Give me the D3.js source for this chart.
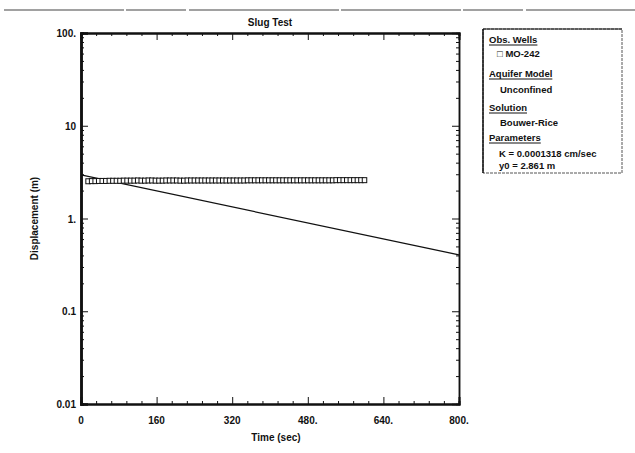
<!DOCTYPE html>
<html><head><meta charset="utf-8">
<script src="https://cdn.jsdelivr.net/npm/d3@7"></script>
<style>
body{margin:0;background:#fff;}
svg{display:block;font-family:"Liberation Sans",Arial,sans-serif;}
</style></head><body>
<svg id="c" width="635" height="453"></svg>
<script>
// ---- data ----
const obsTimes = [15,22.5,30,37.5,45,52.5,60,67.5,75,82.5,90,97.5,105,112.5,120,127.5,135,142.5,150,157.5,165,172.5,180,187.5,195,202.5,210,217.5,225,232.5,240,247.5,255,262.5,270,277.5,285,292.5,300,307.5,315,322.5,330,337.5,345,352.5,360,367.5,375,382.5,390,397.5,405,412.5,420,427.5,435,442.5,450,457.5,465,472.5,480,487.5,495,502.5,510,517.5,525,532.5,540,547.5,555,562.5,570,577.5,585,592.5,600];
const obsDisp = [2.52,2.53,2.53,2.54,2.54,2.54,2.55,2.55,2.55,2.55,2.56,2.56,2.56,2.56,2.57,2.56,2.56,2.57,2.57,2.56,2.56,2.56,2.57,2.57,2.57,2.57,2.56,2.56,2.57,2.57,2.57,2.57,2.57,2.57,2.57,2.57,2.57,2.57,2.57,2.57,2.57,2.57,2.57,2.57,2.57,2.58,2.58,2.58,2.58,2.58,2.58,2.58,2.58,2.58,2.58,2.58,2.58,2.58,2.58,2.58,2.58,2.58,2.58,2.58,2.58,2.58,2.58,2.58,2.58,2.58,2.59,2.59,2.59,2.59,2.59,2.59,2.59,2.59,2.59];
const fitTimes = [0, 800];
const fitDisp = [2.95, 0.405];
const xTickValues = [0,160,320,480,640,800];
const xTickLabels = ["0","160","320","480.","640.","800."];
const yTickValues = [0.01,0.1,1,10,100];
const yTickLabels = ["0.01","0.1","1.","10","100."];
const legendLines = [
  {t:"Obs. Wells", u:true},
  {t:"\u25A1 MO-242", u:false},
  {t:"Aquifer Model", u:true},
  {t:"Unconfined", u:false},
  {t:"Solution", u:true},
  {t:"Bouwer-Rice", u:false},
  {t:"Parameters", u:true},
  {t:"K  = 0.0001318 cm/sec", u:false},
  {t:"y0 = 2.861 m", u:false}
];

// ---- layout ----
const svg = d3.select("#c");
const L=81, R=459, T=33, B=404;
const x = d3.scaleLinear().domain([0,800]).range([L,R]);
const y = d3.scaleLog().domain([0.01,100]).range([B,T]);
const ink = "#111";
const fw = "bold";

// scan line at top
svg.append("line").attr("x1",4).attr("x2",635).attr("y1",10).attr("y2",10)
  .attr("stroke","#444").attr("stroke-width",1.2).attr("stroke-dasharray","120,2,60,3,150,2");

// minor ticks
const xMinor = d3.range(0,801,32).filter(v=>v%160!==0);
const yMinor = [];
[0.01,0.1,1,10].forEach(d=>{for(let k=2;k<=9;k++) yMinor.push(d*k);});

// axes (ticks inward)
const gB = svg.append("g").attr("transform",`translate(0,${B})`);
gB.call(d3.axisBottom(x).tickValues(xTickValues).tickSize(-7).tickFormat(""));
gB.append("g").call(d3.axisBottom(x).tickValues(xMinor).tickSize(-3).tickFormat(""));
const gT = svg.append("g").attr("transform",`translate(0,${T})`);
gT.call(d3.axisTop(x).tickValues(xTickValues).tickSize(-7).tickFormat(""));
gT.append("g").call(d3.axisTop(x).tickValues(xMinor).tickSize(-3).tickFormat(""));
const gL = svg.append("g").attr("transform",`translate(${L},0)`);
gL.call(d3.axisLeft(y).tickValues(yTickValues).tickSize(-7).tickFormat(""));
gL.append("g").call(d3.axisLeft(y).tickValues(yMinor).tickSize(-3).tickFormat(""));
const gR = svg.append("g").attr("transform",`translate(${R},0)`);
gR.call(d3.axisRight(y).tickValues(yTickValues).tickSize(-7).tickFormat(""));
gR.append("g").call(d3.axisRight(y).tickValues(yMinor).tickSize(-3).tickFormat(""));
svg.selectAll(".domain").attr("stroke",ink);
svg.selectAll(".tick line").attr("stroke",ink).attr("stroke-width",1);
gL.selectAll(".domain").attr("stroke-width",2.5);
gB.selectAll(".domain").attr("stroke-width",2);
gT.selectAll(".domain").attr("stroke-width",2);
gR.selectAll(".domain").attr("stroke-width",1.5);
gB.select("g").select(".domain").remove();
gT.select("g").select(".domain").remove();
gL.select("g").select(".domain").remove();
gR.select("g").select(".domain").remove();

// tick labels
svg.append("g").selectAll("text").data(xTickValues).join("text")
  .attr("x",d=>x(d)).attr("y",B+20).attr("text-anchor","middle").attr("font-weight",fw)
  .attr("font-size",10).attr("fill",ink).text((d,i)=>xTickLabels[i]);
svg.append("g").selectAll("text").data(yTickValues).join("text")
  .attr("x",L-5).attr("y",d=>y(d)+4).attr("text-anchor","end").attr("font-weight",fw)
  .attr("font-size",10).attr("fill",ink).text((d,i)=>yTickLabels[i]);

// titles
svg.append("text").attr("x",(L+R)/2).attr("y",26).attr("text-anchor","middle").attr("font-weight",fw)
  .attr("font-size",10).attr("fill",ink).text("Slug Test");
svg.append("text").attr("x",(L+R)/2+6).attr("y",441).attr("text-anchor","middle").attr("font-weight",fw)
  .attr("font-size",10).attr("fill",ink).text("Time (sec)");
svg.append("text").attr("transform",`translate(38,${(T+B)/2}) rotate(-90)`).attr("font-weight",fw)
  .attr("text-anchor","middle").attr("font-size",10).attr("fill",ink).text("Displacement (m)");

// fitted line
const line = d3.line().x(d=>x(d[0])).y(d=>y(d[1]));
svg.append("path").datum(fitTimes.map((t,i)=>[t,fitDisp[i]]))
  .attr("d",line).attr("fill","none").attr("stroke",ink).attr("stroke-width",1.2);

// observations
svg.append("g").selectAll("rect").data(obsTimes.map((t,i)=>[t,obsDisp[i]])).join("rect")
  .attr("x",d=>x(d[0])-2.25).attr("y",d=>y(d[1])-2.5).attr("width",4.5).attr("height",5)
  .attr("fill","#fff").attr("stroke",ink).attr("stroke-width",1);

// legend box
const lg = svg.append("g");
lg.append("rect").attr("x",483).attr("y",29).attr("width",139).attr("height",144)
  .attr("fill","none").attr("stroke","#555").attr("stroke-width",1).attr("stroke-dasharray","3,1");
lg.append("line").attr("x1",483).attr("x2",483).attr("y1",29).attr("y2",173)
  .attr("stroke",ink).attr("stroke-width",1.5);
lg.append("line").attr("x1",483).attr("x2",622).attr("y1",29).attr("y2",29)
  .attr("stroke",ink).attr("stroke-width",1.2);
const ly = [43,57,77,93,111,126,141,157,169];
const lx = [489,497,489,500,489,500,489,499,499];
legendLines.forEach((l,i)=>{
  const t = lg.append("text").attr("x",lx[i]).attr("y",ly[i]).attr("font-size",9.5).attr("font-weight",fw)
    .attr("fill",ink).text(l.t);
  if(l.u){
    const w = t.node().getComputedTextLength();
    lg.append("line").attr("x1",lx[i]).attr("x2",lx[i]+w).attr("y1",ly[i]+2).attr("y2",ly[i]+2)
      .attr("stroke",ink).attr("stroke-width",1);
  }
});
</script>
</body></html>
